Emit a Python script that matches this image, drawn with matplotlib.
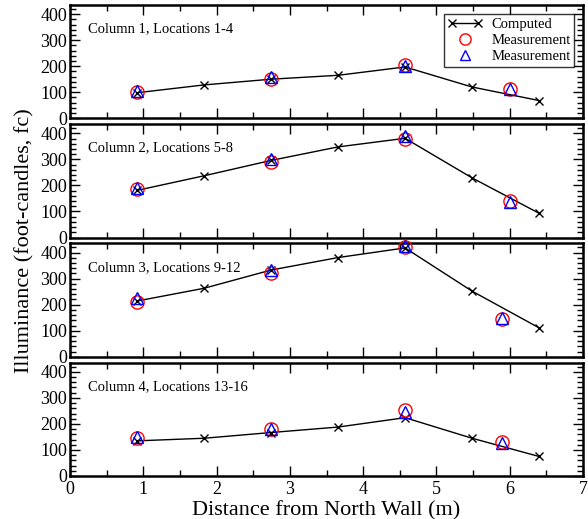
import matplotlib
matplotlib.use("Agg")
import matplotlib.pyplot as plt
from matplotlib.ticker import MultipleLocator

plt.rcParams['font.family'] = ['Liberation Serif', 'DejaVu Serif']

# Data
x_computed = [0.9144, 1.8288, 2.7432, 3.6576, 4.572, 5.4864, 6.4008]
computed = [
    [98, 128, 150, 165, 197, 120, 68],
    [181, 237, 296, 348, 381, 229, 93],
    [214, 263, 333, 381, 418, 252, 111],
    [135, 145, 167, 188, 224, 145, 75],
]
x_meas = [
    [0.9144, 2.7432, 4.572, 6.0],
    [0.9144, 2.7432, 4.572, 6.0],
    [0.9144, 2.7432, 4.572, 5.9],
    [0.9144, 2.7432, 4.572, 5.9],
]
meas_circle = [
    [102, 152, 205, 112],
    [185, 290, 378, 141],
    [212, 320, 420, 144],
    [145, 182, 252, 129],
]
meas_tri = [
    [105, 160, 200, 113],
    [190, 300, 388, 138],
    [225, 335, 425, 148],
    [148, 180, 245, 125],
]
titles = ["Column 1, Locations 1-4", "Column 2, Locations 5-8",
          "Column 3, Locations 9-12", "Column 4, Locations 13-16"]

W, H = 588, 519
fig = plt.figure(figsize=(W / 100, H / 100), dpi=100)

left, right = 70, 583
top0, bottom_last = 5, 476
gap = 6
ph = (bottom_last - top0 - 3 * gap) / 4

axes = []
for i in range(4):
    top = top0 + i * (ph + gap)
    ax = fig.add_axes([left / W, 1 - (top + ph) / H, (right - left) / W, ph / H])
    axes.append(ax)
    ax.plot(x_computed, computed[i], color='black', marker='x', markersize=6,
            linewidth=1.0, markeredgewidth=1.0, label='Computed', clip_on=False, zorder=3)
    ax.plot(x_meas[i], meas_circle[i], linestyle='none', marker='o', markersize=9.5,
            markerfacecolor='none', markeredgecolor='red', markeredgewidth=1.0,
            label='Measurement', clip_on=False, zorder=4)
    ax.plot(x_meas[i], meas_tri[i], linestyle='none', marker='^', markersize=9,
            markerfacecolor='none', markeredgecolor='blue', markeredgewidth=1.0,
            label='Measurement', clip_on=False, zorder=5)
    ax.set_xlim(0, 7)
    ax.set_ylim(0, 435)
    ax.xaxis.set_major_locator(MultipleLocator(1))
    ax.xaxis.set_minor_locator(MultipleLocator(0.5))
    ax.yaxis.set_major_locator(MultipleLocator(100))
    ax.yaxis.set_minor_locator(MultipleLocator(20))
    ax.tick_params(which='both', direction='in', top=True, right=True, width=1.0)
    ax.tick_params(which='major', length=7, labelsize=13)
    ax.tick_params(which='minor', length=4)
    ax.tick_params(axis='y', pad=2)
    for sp in ax.spines.values():
        sp.set_linewidth(1.8)
    ax.text(0.035, 0.79, titles[i], transform=ax.transAxes, fontsize=10.5,
            ha='left', va='center')
    if i < 3:
        ax.tick_params(labelbottom=False)
    else:
        ax.set_xlabel("Distance from North Wall (m)", fontsize=16, labelpad=2)

leg = axes[0].legend(loc='upper right', fontsize=10.5, numpoints=2, frameon=True,
                     fancybox=False, edgecolor='black', borderaxespad=0.6,
                     handlelength=2.4, handletextpad=0.6, borderpad=0.25,
                     labelspacing=0.2, markerscale=0.85)
leg.get_frame().set_linewidth(1.0)
# single markers for measurement entries
for h in leg.legend_handles[1:]:
    xd = h.get_xdata()
    h.set_xdata([sum(xd) / len(xd)])
    h.set_ydata([h.get_ydata()[0]])

fig.text(25 / W, 1 - ((top0 + bottom_last) / 2) / H, "Illuminance (foot-candles, fc)",
         rotation=90, fontsize=16, ha='center', va='center')

fig.savefig("out.png", dpi=100)
